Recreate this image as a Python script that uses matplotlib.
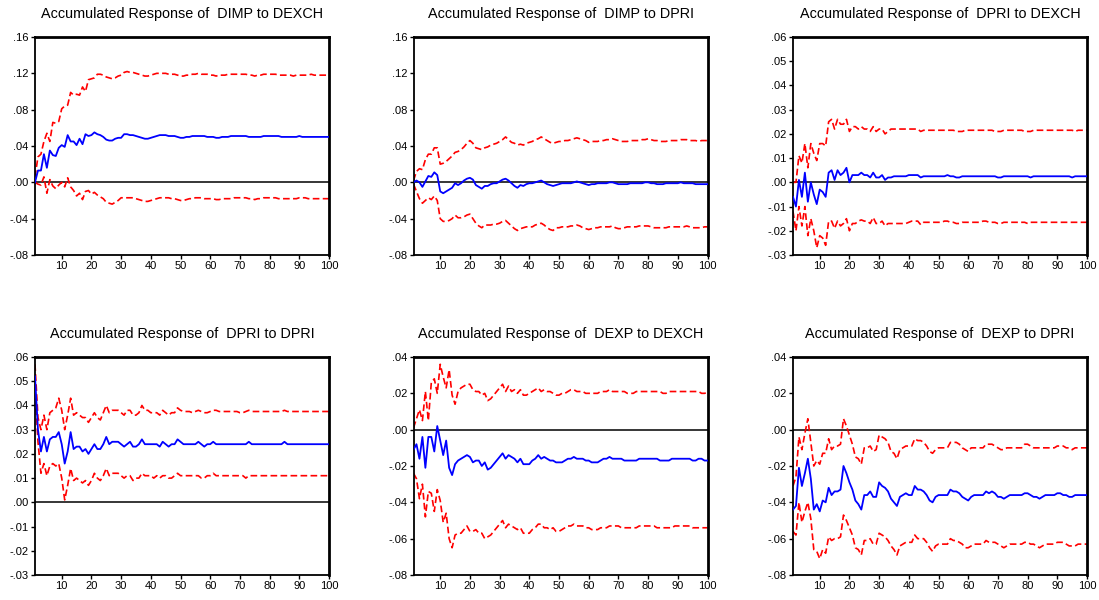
import matplotlib
matplotlib.use("Agg")
import matplotlib.pyplot as plt
import numpy as np

plt.rcParams['font.family'] = ['Liberation Sans', 'DejaVu Sans']

periods = np.arange(1, 101)

# --- DIMP to DEXCH ---
dimp_dexch = [
    .000, .013, .013, .031, .016, .035, .030, .029, .038, .041,
    .039, .052, .045, .045, .041, .048, .042, .053, .051, .052,
    .055, .053, .052, .050, .047, .046, .046, .048, .049, .049,
    .053, .053, .052, .052, .051, .050, .049, .048, .048, .049,
    .050, .051, .052, .052, .052, .051, .051, .051, .050, .049,
    .049, .050, .050, .051, .051, .051, .051, .051, .050, .050,
    .050, .049, .049, .050, .050, .050, .051, .051, .051, .051,
    .051, .051, .050, .050, .050, .050, .050, .051, .051, .051,
    .051, .051, .051, .050, .050, .050, .050, .050, .050, .051,
    .050, .050, .050, .050, .050, .050, .050, .050, .050, .050]
dimp_dexch_hi = [
    .006, .028, .031, .045, .054, .045, .066, .065, .067, .081,
    .084, .085, .099, .096, .097, .096, .105, .100, .113, .114,
    .115, .119, .119, .118, .116, .115, .114, .115, .117, .118,
    .121, .122, .121, .121, .120, .119, .118, .117, .117, .118,
    .119, .120, .120, .120, .120, .119, .119, .119, .118, .117,
    .117, .118, .118, .119, .119, .120, .119, .119, .119, .118,
    .118, .117, .118, .118, .118, .119, .119, .119, .119, .119,
    .119, .119, .118, .118, .117, .118, .118, .119, .119, .119,
    .119, .119, .118, .118, .118, .118, .118, .117, .118, .118,
    .118, .118, .118, .119, .118, .118, .118, .118, .118, .118]
dimp_dexch_lo = [
    .000, -.002, -.003, .006, -.012, .003, -.004, -.007, -.003, .000,
    -.005, .005, -.005, -.009, -.015, -.012, -.019, -.010, -.009, -.013,
    -.011, -.014, -.016, -.018, -.022, -.023, -.024, -.022, -.020, -.017,
    -.017, -.017, -.017, -.017, -.018, -.019, -.020, -.021, -.021, -.020,
    -.019, -.018, -.017, -.017, -.017, -.017, -.018, -.018, -.019, -.020,
    -.020, -.019, -.018, -.018, -.017, -.017, -.017, -.018, -.018, -.018,
    -.018, -.019, -.019, -.018, -.018, -.018, -.018, -.017, -.017, -.017,
    -.017, -.017, -.018, -.018, -.019, -.018, -.018, -.017, -.017, -.017,
    -.017, -.017, -.018, -.018, -.018, -.018, -.018, -.018, -.018, -.017,
    -.017, -.017, -.018, -.018, -.018, -.018, -.018, -.018, -.018, -.018]

# --- DIMP to DPRI ---
dimp_dpri = [
    .000, .002, .000, -.005, .001, .007, .006, .011, .008, -.010,
    -.012, -.010, -.008, -.006, -.001, -.003, -.001, .002, .004, .005,
    .003, -.003, -.005, -.007, -.004, -.004, -.002, -.001, -.001, .001,
    .003, .004, .002, -.001, -.004, -.006, -.003, -.004, -.002, -.001,
    -.001, .000, .001, .002, .000, -.002, -.003, -.004, -.003, -.002,
    -.001, -.001, -.001, -.001, .000, .001, .000, -.001, -.002, -.003,
    -.002, -.002, -.001, -.001, -.001, -.001, .000, .000, -.001, -.002,
    -.002, -.002, -.002, -.001, -.001, -.001, -.001, -.001, .000, .000,
    -.001, -.001, -.002, -.002, -.002, -.001, -.001, -.001, -.001, -.001,
    .000, -.001, -.001, -.001, -.001, -.002, -.002, -.002, -.002, -.002]
dimp_dpri_hi = [
    .002, .012, .015, .014, .025, .031, .031, .038, .038, .020,
    .021, .023, .026, .029, .033, .034, .036, .039, .043, .046,
    .043, .038, .037, .036, .038, .039, .041, .042, .043, .045,
    .047, .050, .047, .044, .043, .041, .042, .041, .043, .044,
    .045, .047, .048, .050, .048, .046, .044, .043, .044, .045,
    .045, .046, .046, .047, .048, .049, .048, .047, .046, .044,
    .045, .045, .045, .046, .046, .047, .047, .048, .047, .046,
    .045, .045, .045, .046, .046, .046, .046, .047, .047, .048,
    .047, .046, .046, .045, .045, .045, .046, .046, .046, .046,
    .047, .047, .047, .046, .046, .046, .045, .046, .046, .046]
dimp_dpri_lo = [
    -.002, -.010, -.018, -.023, -.020, -.017, -.019, -.015, -.020, -.040,
    -.043, -.043, -.042, -.040, -.036, -.039, -.039, -.038, -.036, -.035,
    -.040, -.045, -.048, -.050, -.047, -.047, -.047, -.046, -.046, -.045,
    -.043, -.042, -.045, -.048, -.051, -.053, -.051, -.050, -.049, -.049,
    -.049, -.047, -.046, -.045, -.047, -.050, -.052, -.053, -.050, -.050,
    -.049, -.049, -.049, -.048, -.048, -.047, -.048, -.050, -.051, -.052,
    -.051, -.050, -.050, -.049, -.049, -.049, -.049, -.048, -.050, -.051,
    -.051, -.050, -.049, -.049, -.049, -.049, -.048, -.048, -.048, -.048,
    -.049, -.050, -.050, -.050, -.050, -.050, -.049, -.049, -.049, -.049,
    -.049, -.049, -.048, -.049, -.050, -.050, -.050, -.050, -.049, -.049]

# --- DPRI to DEXCH ---
dpri_dexch = [
    -.006, -.010, .001, -.006, .004, -.008, .000, -.005, -.009, -.003,
    -.004, -.006, .004, .005, .001, .005, .003, .004, .006, .000,
    .003, .003, .003, .004, .003, .003, .002, .004, .002, .002,
    .003, .001, .002, .002, .0025, .0025, .0025, .0025, .0025, .003,
    .003, .003, .003, .002, .0025, .0025, .0025, .0025, .0025, .0025,
    .0025, .0025, .003, .0025, .0025, .002, .002, .0025, .0025, .0025,
    .0025, .0025, .0025, .0025, .0025, .0025, .0025, .0025, .0025, .002,
    .002, .0025, .0025, .0025, .0025, .0025, .0025, .0025, .0025, .0025,
    .002, .0025, .0025, .0025, .0025, .0025, .0025, .0025, .0025, .0025,
    .0025, .0025, .0025, .0025, .002, .0025, .0025, .0025, .0025, .0025]
dpri_dexch_hi = [
    .000, .000, .011, .008, .016, .006, .016, .012, .009, .016,
    .016, .015, .025, .026, .022, .026, .024, .024, .026, .021,
    .023, .023, .022, .023, .022, .022, .021, .023, .021, .022,
    .022, .020, .021, .022, .022, .022, .022, .022, .022, .022,
    .022, .022, .022, .021, .0215, .0215, .0215, .0215, .0215, .0215,
    .0215, .0215, .0215, .0215, .0215, .021, .021, .021, .0215, .0215,
    .0215, .0215, .0215, .0215, .0215, .0215, .0215, .0215, .021, .021,
    .021, .0215, .0215, .0215, .0215, .0215, .0215, .0215, .021, .021,
    .021, .0215, .0215, .0215, .0215, .0215, .0215, .0215, .0215, .0215,
    .0215, .0215, .0215, .0215, .0215, .021, .0215, .0215, .0215, .0215]
dpri_dexch_lo = [
    -.012, -.020, -.010, -.018, -.010, -.022, -.015, -.020, -.027, -.022,
    -.023, -.026, -.016, -.016, -.019, -.016, -.018, -.017, -.015, -.020,
    -.017, -.017, -.016, -.0155, -.016, -.016, -.017, -.0145, -.017, -.017,
    -.016, -.018, -.017, -.017, -.017, -.017, -.017, -.017, -.017, -.0165,
    -.016, -.016, -.016, -.0175, -.0165, -.0165, -.0165, -.0165, -.0165, -.0165,
    -.0165, -.016, -.016, -.0165, -.0165, -.017, -.017, -.0165, -.0165, -.0165,
    -.0165, -.0165, -.0165, -.0165, -.016, -.016, -.0165, -.0165, -.0165, -.017,
    -.017, -.0165, -.0165, -.0165, -.0165, -.0165, -.0165, -.0165, -.0165, -.017,
    -.0165, -.0165, -.0165, -.0165, -.0165, -.0165, -.0165, -.0165, -.0165, -.0165,
    -.0165, -.0165, -.0165, -.0165, -.0165, -.0165, -.0165, -.0165, -.0165, -.0165]

# --- DPRI to DPRI ---
dpri_dpri = [
    .052, .030, .021, .027, .021, .026, .027, .027, .029, .024,
    .016, .021, .029, .022, .023, .023, .021, .022, .020, .022,
    .024, .022, .022, .024, .027, .024, .025, .025, .025, .024,
    .023, .024, .025, .023, .023, .024, .026, .024, .024, .024,
    .024, .024, .023, .025, .024, .023, .024, .024, .026, .025,
    .024, .024, .024, .024, .024, .025, .024, .023, .024, .024,
    .025, .024, .024, .024, .024, .024, .024, .024, .024, .024,
    .024, .024, .025, .024, .024, .024, .024, .024, .024, .024,
    .024, .024, .024, .024, .025, .024, .024, .024, .024, .024,
    .024, .024, .024, .024, .024, .024, .024, .024, .024, .024]
dpri_dpri_hi = [
    .057, .035, .030, .036, .030, .037, .038, .039, .043, .038,
    .030, .036, .043, .036, .037, .036, .035, .035, .033, .035,
    .037, .035, .034, .037, .040, .037, .038, .038, .038, .037,
    .036, .038, .038, .036, .036, .037, .040, .038, .038, .037,
    .037, .037, .036, .038, .037, .036, .037, .037, .039, .038,
    .0375, .0375, .0375, .037, .0375, .038, .0375, .037, .037, .0375,
    .038, .038, .0375, .0375, .0375, .0375, .0375, .0375, .0375, .037,
    .037, .0375, .038, .0375, .0375, .0375, .0375, .0375, .0375, .0375,
    .0375, .0375, .0375, .0375, .038, .0375, .0375, .0375, .0375, .0375,
    .0375, .0375, .0375, .0375, .0375, .0375, .0375, .0375, .0375, .0375]
dpri_dpri_lo = [
    .047, .025, .012, .016, .011, .015, .016, .015, .016, .010,
    .001, .007, .014, .009, .010, .009, .008, .009, .007, .009,
    .012, .010, .009, .011, .014, .011, .012, .012, .012, .011,
    .010, .011, .011, .009, .010, .010, .012, .011, .011, .011,
    .010, .011, .010, .011, .011, .010, .010, .011, .012, .011,
    .011, .011, .011, .011, .011, .011, .010, .010, .011, .011,
    .012, .011, .011, .011, .011, .011, .011, .011, .011, .011,
    .011, .010, .011, .011, .011, .011, .011, .011, .011, .011,
    .011, .011, .011, .011, .011, .011, .011, .011, .011, .011,
    .011, .011, .011, .011, .011, .011, .011, .011, .011, .011]

# --- DEXP to DEXCH ---
dexp_dexch = [
    -.011, -.008, -.016, -.004, -.021, -.004, -.004, -.012, .002, -.006,
    -.014, -.006, -.021, -.025, -.019, -.017, -.016, -.015, -.014, -.015,
    -.018, -.017, -.017, -.020, -.018, -.022, -.021, -.019, -.017, -.015,
    -.013, -.016, -.014, -.015, -.016, -.018, -.016, -.019, -.019, -.019,
    -.017, -.016, -.014, -.016, -.015, -.016, -.017, -.017, -.018, -.018,
    -.018, -.017, -.016, -.016, -.015, -.016, -.016, -.016, -.017, -.017,
    -.018, -.018, -.018, -.017, -.016, -.016, -.015, -.016, -.016, -.016,
    -.016, -.017, -.017, -.017, -.017, -.017, -.016, -.016, -.016, -.016,
    -.016, -.016, -.016, -.017, -.017, -.017, -.017, -.016, -.016, -.016,
    -.016, -.016, -.016, -.016, -.017, -.017, -.016, -.016, -.017, -.017]
dexp_dexch_hi = [
    .001, .006, .011, .005, .021, .005, .026, .028, .020, .036,
    .029, .023, .033, .019, .014, .021, .023, .024, .025, .025,
    .022, .021, .021, .019, .020, .016, .017, .019, .021, .023,
    .025, .021, .024, .021, .022, .020, .022, .019, .019, .020,
    .021, .022, .023, .021, .022, .021, .021, .020, .019, .019,
    .020, .020, .021, .022, .022, .021, .021, .021, .020, .020,
    .020, .020, .020, .021, .021, .021, .022, .021, .021, .021,
    .021, .021, .020, .020, .020, .021, .021, .021, .021, .021,
    .021, .021, .021, .021, .020, .020, .021, .021, .021, .021,
    .021, .021, .021, .021, .021, .021, .021, .020, .020, .0205]
dexp_dexch_lo = [
    -.024, -.027, -.038, -.030, -.048, -.034, -.035, -.045, -.033, -.039,
    -.051, -.046, -.060, -.065, -.058, -.057, -.057, -.055, -.053, -.056,
    -.056, -.055, -.057, -.057, -.060, -.059, -.058, -.056, -.054, -.052,
    -.050, -.054, -.052, -.053, -.054, -.055, -.054, -.057, -.057, -.057,
    -.055, -.054, -.052, -.052, -.054, -.054, -.055, -.054, -.056, -.056,
    -.055, -.054, -.053, -.053, -.052, -.053, -.053, -.053, -.054, -.054,
    -.055, -.055, -.055, -.054, -.054, -.054, -.053, -.053, -.053, -.053,
    -.054, -.054, -.054, -.054, -.054, -.054, -.053, -.053, -.053, -.053,
    -.053, -.053, -.054, -.054, -.054, -.054, -.054, -.054, -.053, -.053,
    -.053, -.053, -.053, -.053, -.054, -.054, -.054, -.054, -.054, -.054]

# --- DEXP to DPRI ---
dexp_dpri = [
    -.044, -.042, -.021, -.031, -.024, -.016, -.027, -.044, -.041, -.045,
    -.039, -.040, -.032, -.036, -.034, -.034, -.033, -.020, -.024, -.029,
    -.033, -.039, -.041, -.044, -.036, -.036, -.034, -.037, -.037, -.029,
    -.031, -.032, -.034, -.038, -.040, -.042, -.037, -.036, -.035, -.036,
    -.036, -.031, -.033, -.033, -.034, -.036, -.039, -.040, -.037, -.036,
    -.036, -.036, -.036, -.033, -.034, -.034, -.035, -.037, -.038, -.039,
    -.037, -.036, -.036, -.036, -.036, -.034, -.035, -.034, -.035, -.037,
    -.037, -.038, -.037, -.036, -.036, -.036, -.036, -.036, -.035, -.035,
    -.036, -.037, -.037, -.038, -.037, -.036, -.036, -.036, -.036, -.035,
    -.035, -.036, -.036, -.037, -.037, -.036, -.036, -.036, -.036, -.036]
dexp_dpri_hi = [
    -.031, -.026, -.004, -.011, -.002, .006, -.007, -.020, -.017, -.019,
    -.013, -.013, -.005, -.011, -.009, -.009, -.008, .006, .002, -.003,
    -.008, -.015, -.016, -.019, -.010, -.010, -.009, -.012, -.011, -.003,
    -.004, -.005, -.007, -.012, -.013, -.016, -.011, -.010, -.009, -.009,
    -.009, -.005, -.006, -.006, -.007, -.009, -.012, -.013, -.011, -.010,
    -.010, -.010, -.010, -.007, -.007, -.007, -.008, -.010, -.011, -.012,
    -.010, -.010, -.010, -.010, -.010, -.008, -.008, -.008, -.009, -.010,
    -.011, -.011, -.010, -.010, -.010, -.010, -.010, -.010, -.008, -.008,
    -.009, -.010, -.010, -.010, -.010, -.010, -.010, -.010, -.010, -.009,
    -.009, -.009, -.010, -.010, -.011, -.010, -.010, -.010, -.010, -.010]
dexp_dpri_lo = [
    -.056, -.058, -.040, -.051, -.045, -.040, -.049, -.066, -.067, -.071,
    -.066, -.068, -.059, -.061, -.060, -.060, -.059, -.047, -.050, -.054,
    -.058, -.065, -.066, -.069, -.061, -.061, -.060, -.063, -.063, -.057,
    -.058, -.059, -.061, -.064, -.066, -.069, -.064, -.063, -.062, -.062,
    -.062, -.058, -.060, -.060, -.060, -.062, -.065, -.067, -.064, -.063,
    -.063, -.063, -.063, -.060, -.061, -.061, -.062, -.063, -.065, -.065,
    -.064, -.063, -.063, -.063, -.063, -.061, -.062, -.062, -.062, -.063,
    -.064, -.065, -.064, -.063, -.063, -.063, -.063, -.063, -.062, -.062,
    -.063, -.063, -.064, -.065, -.064, -.063, -.063, -.063, -.063, -.062,
    -.062, -.062, -.063, -.064, -.064, -.064, -.063, -.063, -.063, -.063]

titles = ["Accumulated Response of  DIMP to DEXCH",
          "Accumulated Response of  DIMP to DPRI",
          "Accumulated Response of  DPRI to DEXCH",
          "Accumulated Response of  DPRI to DPRI",
          "Accumulated Response of  DEXP to DEXCH",
          "Accumulated Response of  DEXP to DPRI"]

series = [(dimp_dexch, dimp_dexch_hi, dimp_dexch_lo),
          (dimp_dpri, dimp_dpri_hi, dimp_dpri_lo),
          (dpri_dexch, dpri_dexch_hi, dpri_dexch_lo),
          (dpri_dpri, dpri_dpri_hi, dpri_dpri_lo),
          (dexp_dexch, dexp_dexch_hi, dexp_dexch_lo),
          (dexp_dpri, dexp_dpri_hi, dexp_dpri_lo)]

yticks = [[-.08, -.04, .00, .04, .08, .12, .16],
          [-.08, -.04, .00, .04, .08, .12, .16],
          [-.03, -.02, -.01, .00, .01, .02, .03, .04, .05, .06],
          [-.03, -.02, -.01, .00, .01, .02, .03, .04, .05, .06],
          [-.08, -.06, -.04, -.02, .00, .02, .04],
          [-.08, -.06, -.04, -.02, .00, .02, .04]]


def fmt(v):
    # EViews style: drop the leading zero
    s = "%.2f" % v
    if s.startswith("-0"):
        return "-" + s[2:]
    if s.startswith("0"):
        return s[1:]
    return s


fig = plt.figure(figsize=(10.99, 6.0), dpi=100)

lefts = [35, 413.5, 793]
tops = [37, 357]
W, H = 294, 218

for i in range(6):
    row, col = divmod(i, 3)
    ax = fig.add_axes([lefts[col] / 1099, 1 - (tops[row] + H) / 600, W / 1099, H / 600])
    resp, hi, lo = series[i]
    ax.axhline(0, color="black", lw=1.1, zorder=1)
    ax.plot(periods, hi, color="#ff0000", lw=1.2, linestyle=(0, (4, 2)), zorder=2)
    ax.plot(periods, lo, color="#ff0000", lw=1.2, linestyle=(0, (4, 2)), zorder=2)
    ax.plot(periods, resp, color="#0000ff", lw=1.3, zorder=3)
    ax.set_xlim(1, 100)
    ax.set_ylim(yticks[i][0], yticks[i][-1])
    ax.set_xticks(range(10, 101, 10))
    ax.set_yticks(yticks[i])
    ax.set_yticklabels([fmt(v) for v in yticks[i]])
    ax.tick_params(direction="out", length=3, width=1, labelsize=8, pad=1.5, colors="black")
    for side in ["left", "bottom"]:
        ax.spines[side].set_linewidth(1.3)
    for side in ["top", "right"]:
        ax.spines[side].set_linewidth(2.0)
    ax.set_title(titles[i], fontsize=10.4, pad=14)

fig.savefig("out.png", dpi=100)
